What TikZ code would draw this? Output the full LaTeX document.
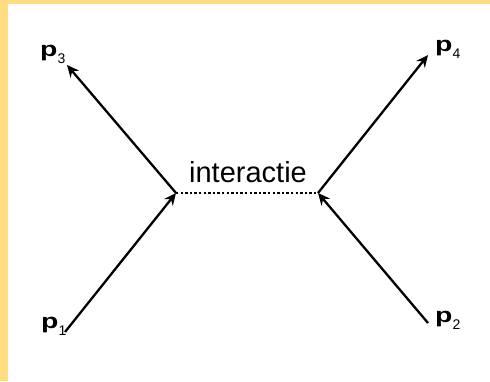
\documentclass[tikz,border=0pt]{standalone}
\usepackage{fontspec}
\setmainfont{Liberation Sans}
\usepackage{graphicx}
\usetikzlibrary{arrows.meta}

\definecolor{randgeel}{RGB}{255,221,128}

% bold p with a lowered index
\newcommand{\impuls}[1]{\scalebox{1.35}[1]{\fontsize{21}{21}\selectfont\bfseries p}\raisebox{-7.5pt}{\fontsize{14}{14}\selectfont #1}}

\begin{document}
\begin{tikzpicture}[x=1pt,y=-1pt,
  deeltje/.style={line width=2.3pt, -{Stealth[length=12pt,width=11pt,inset=4pt]}},
  naam/.style={inner sep=0pt, anchor=base west}]

% frame
\fill[randgeel] (0,0) rectangle (490,381);
\fill[white] (8,4) rectangle (490,381);
\useasboundingbox (0,0) rectangle (490,381);

% vertices and line ends
\coordinate (v1) at (176,193);
\coordinate (v2) at (318,193);
\coordinate (e1) at (65,332);
\coordinate (e2) at (428,323);
\coordinate (e3) at (67,65);
\coordinate (e4) at (428,55);

% incoming and outgoing particles
\draw[deeltje] (e1) -- (v1);
\draw[deeltje] (e2) -- (v2);
\draw[deeltje] (v1) -- (e3);
\draw[deeltje] (v2) -- (e4);

% interaction
\draw[line width=2.3pt, dash pattern=on 2.3pt off 2.3pt] (v1) -- (v2);
\node[inner sep=0pt, anchor=base, font=\fontsize{29}{29}\selectfont] (inter) at (248,182) {interactie};

% momenta
\node[naam] (p1) at (41,328) {\impuls{1}};
\node[naam] (p2) at (435,322) {\impuls{2}};
\node[naam] (p3) at (40,56) {\impuls{3}};
\node[naam] (p4) at (435,51) {\impuls{4}};

\end{tikzpicture}
\end{document}
